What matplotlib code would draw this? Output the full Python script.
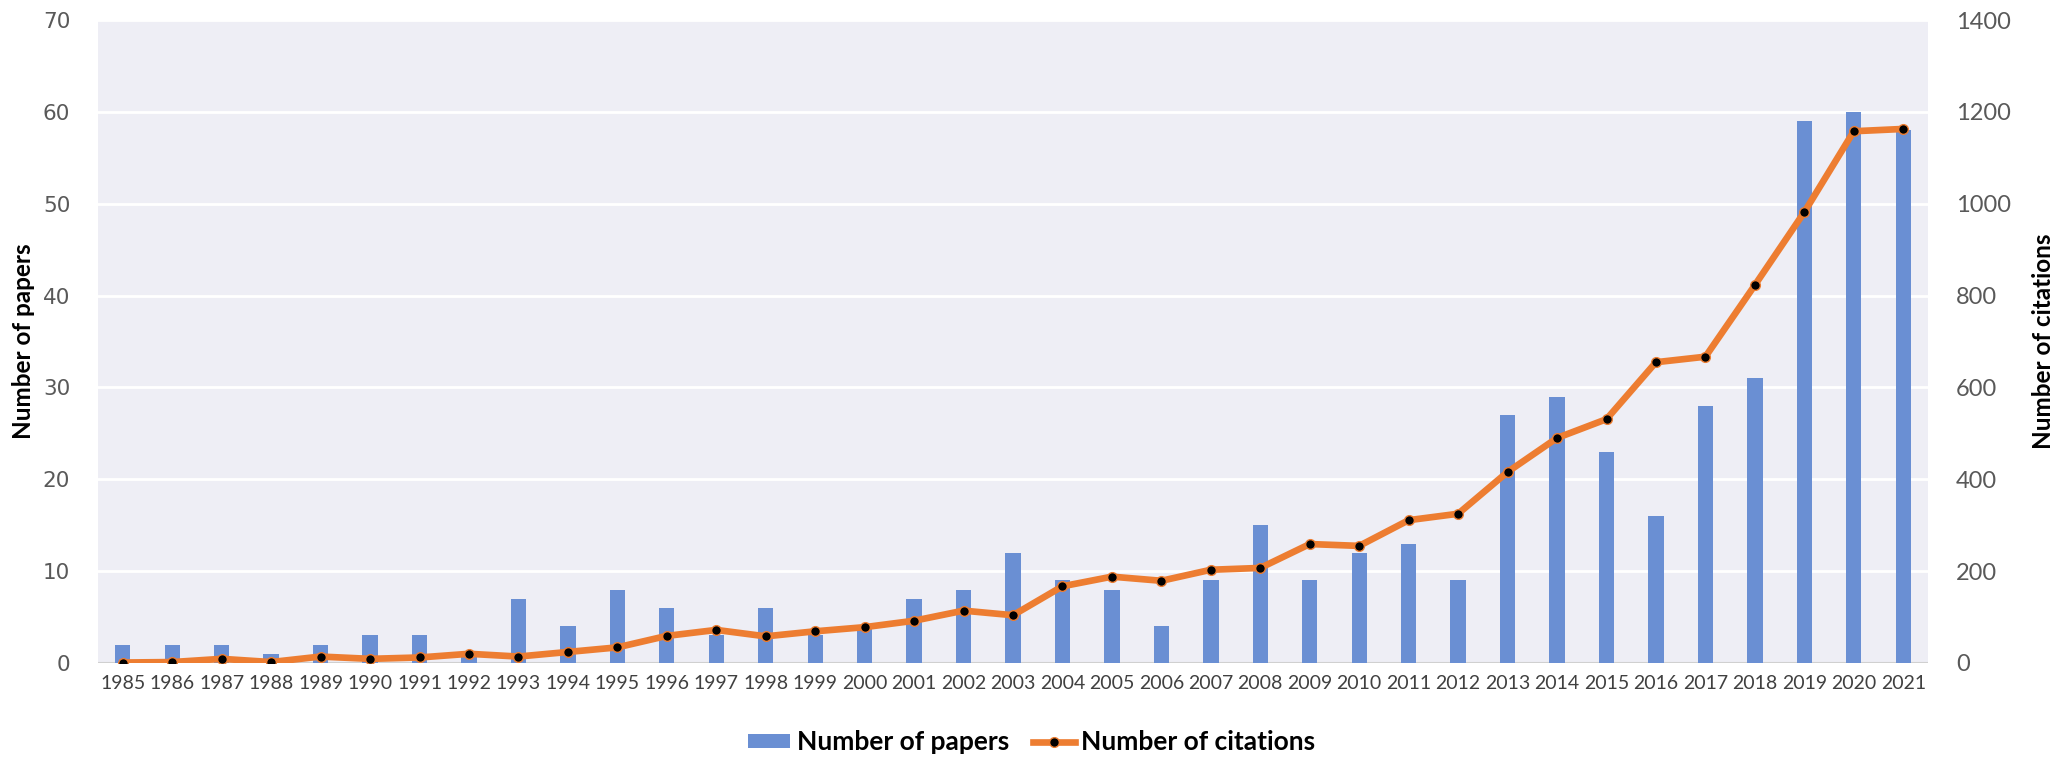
import numpy as np
import matplotlib.pyplot as plt

years = list(range(1985, 2022))
papers = [2, 2, 2, 1, 2, 3, 3, 1, 7, 4, 8, 6, 3, 6, 3, 4, 7, 8, 12, 9,
          8, 4, 9, 15, 9, 12, 13, 9, 27, 29, 23, 16, 28, 31, 59, 60, 58]
citations = [1, 2, 9, 2, 14, 9, 12, 20, 14, 24, 34, 59, 72, 58, 69, 78, 92, 114, 104, 167,
             188, 179, 203, 207, 259, 255, 311, 325, 416, 490, 531, 655, 667, 823, 982, 1158, 1163]

bar_col = '#6A8FD3'
line_col = '#ED7D31'
bg = '#EEEEF5'

fig = plt.figure(figsize=(20.55, 7.59), dpi=100)
ax = fig.add_axes([0.0477, 0.1265, 0.8905, 0.847])
ax2 = ax.twinx()

x = np.arange(len(years))
bars = ax.bar(x, papers, width=0.31, color=bar_col, zorder=3, label='Number of papers')
ln, = ax2.plot(x, citations, color=line_col, lw=4.8, marker='o', ms=7,
               mfc='black', mec=line_col, mew=1, zorder=4, label='Number of citations')

ax.set_facecolor(bg)
ax.set_xlim(-0.5, len(years) - 0.5)
ax.set_ylim(0, 70)
ax2.set_ylim(0, 1400)
ax.set_yticks(range(0, 71, 10))
ax2.set_yticks(range(0, 1401, 200))
ax.set_xticks(x)
ax.set_xticklabels([str(y) for y in years], fontsize=14, family='Lato', color='#404040')

ax.grid(axis='y', color='white', lw=2, zorder=0)
ax.set_axisbelow(True)
for a in (ax, ax2):
    for s in a.spines.values():
        s.set_visible(False)
    a.tick_params(length=0)
ax.axhline(0, color='#D0D0D0', lw=1.5, zorder=2)

ax.tick_params(axis='y', pad=20, labelsize=15.5, labelcolor='#595959')
ax.tick_params(axis='x', pad=9)
ax2.tick_params(axis='y', pad=20, labelsize=17, labelcolor='#595959')
for t in ax2.get_yticklabels():
    t.set_family('Lato')

ax.set_ylabel('Number of papers', fontsize=17.5, fontweight='bold', family='Lato')
ax.yaxis.set_label_coords(-0.0345, 0.5)
ax2.set_ylabel('Number of citations', fontsize=17.5, fontweight='bold', family='Lato',
               rotation=90)
ax2.yaxis.set_label_coords(1.057, 0.5)

fig.legend([bars, ln], ['Number of papers', 'Number of citations'],
           loc='center', bbox_to_anchor=(0.502, 0.022), ncol=2, frameon=False,
           prop={'family': 'Lato', 'weight': 'bold', 'size': 19},
           handlelength=1.6, handleheight=0.45, columnspacing=0.9, handletextpad=0.25)

fig.savefig('out.png', dpi=100)
